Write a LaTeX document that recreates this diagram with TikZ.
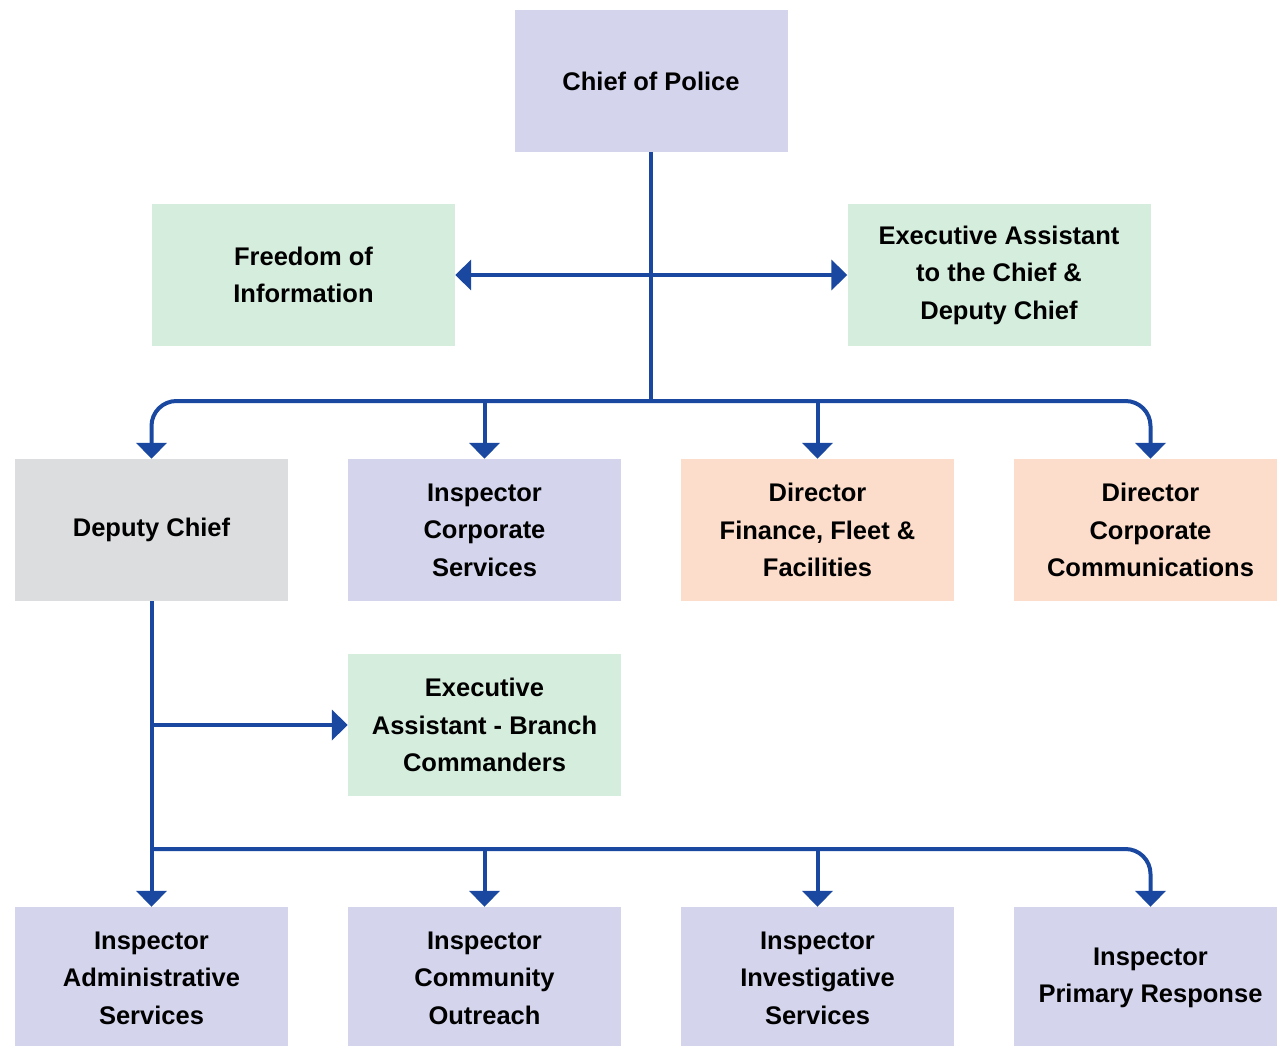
\documentclass[tikz,border=0pt]{standalone}
\usepackage{fontspec}
\setmainfont{Liberation Sans}
\usetikzlibrary{arrows.meta}
\definecolor{lavender}{HTML}{D4D5ED}
\definecolor{mint}{HTML}{D5EDDC}
\definecolor{ash}{HTML}{DCDDDF}
\definecolor{peach}{HTML}{FCDCCB}
\definecolor{linkblue}{HTML}{1A48A0}
\begin{document}
\begin{tikzpicture}[x=1pt, y=-1pt,
		box/.style={minimum width=273pt, minimum height=142pt, inner sep=0pt, align=center,
			font=\fontsize{25.5}{37.5}\selectfont\bfseries, text=black},
		link/.style={draw=linkblue, line width=4pt},
		arr/.style={link, -{Triangle[width=30pt, length=16pt]}}]
		\useasboundingbox (0,0) rectangle (1277,1046);
		\begin{scope}[every node/.style={box, fill=lavender}]
			\node (chief) at (651,81) {Chief of Police};
			\node (corpserv) at (484.5,530) {Inspector\\Corporate\\Services};
			\node (admserv) at (151.5,978) {Inspector\\Administrative\\Services};
			\node (outreach) at (484.5,978) {Inspector\\Community\\Outreach};
			\node (invserv) at (817.5,978) {Inspector\\Investigative\\Services};
			\node (primary) at (1150.5,978) {Inspector\\Primary Response};
		\end{scope}
		\begin{scope}[every node/.style={box, fill=mint, minimum width=303pt}]
			\node (foi) at (303.5,275) {Freedom of\\Information};
			\node (execchief) at (999,275) {Executive Assistant\\to the Chief \&\\Deputy Chief};
		\end{scope}
		\node (execbranch)[box, fill=mint] at (484.5,725) {Executive\\Assistant - Branch\\Commanders};
		\node (deputy)[box, fill=ash] at (151.5,530) {Deputy Chief};
		\begin{scope}[every node/.style={box, fill=peach}]
			\node (dirfin) at (817.5,530) {Director\\Finance, Fleet \&\\Facilities};
			\node (dircomm) at (1150.5,530) {Director\\Corporate\\Communications};
		\end{scope}
		% junctions
		\coordinate (hub) at (651,275);
		\coordinate (bus) at (651,401);
		\coordinate (dhub) at (151.5,725);
		\coordinate (dbus) at (151.5,849);
		% chief links
		\draw [link] (chief.south) -- (bus);
		\draw [arr] (hub) -- (foi.east);
		\draw [arr] (hub) -- (execchief.west);
		\draw [arr, rounded corners=25pt] (bus) -| (deputy.north);
		\draw [arr, rounded corners=25pt] (bus) -| (dircomm.north);
		\draw [arr] (corpserv.north |- bus) -- (corpserv.north);
		\draw [arr] (dirfin.north |- bus) -- (dirfin.north);
		% deputy links
		\draw [arr] (deputy.south) -- (admserv.north);
		\draw [arr] (dhub) -- (execbranch.west);
		\draw [arr, rounded corners=25pt] (dbus) -| (primary.north);
		\draw [arr] (outreach.north |- dbus) -- (outreach.north);
		\draw [arr] (invserv.north |- dbus) -- (invserv.north);
	\end{tikzpicture}
\end{document}
